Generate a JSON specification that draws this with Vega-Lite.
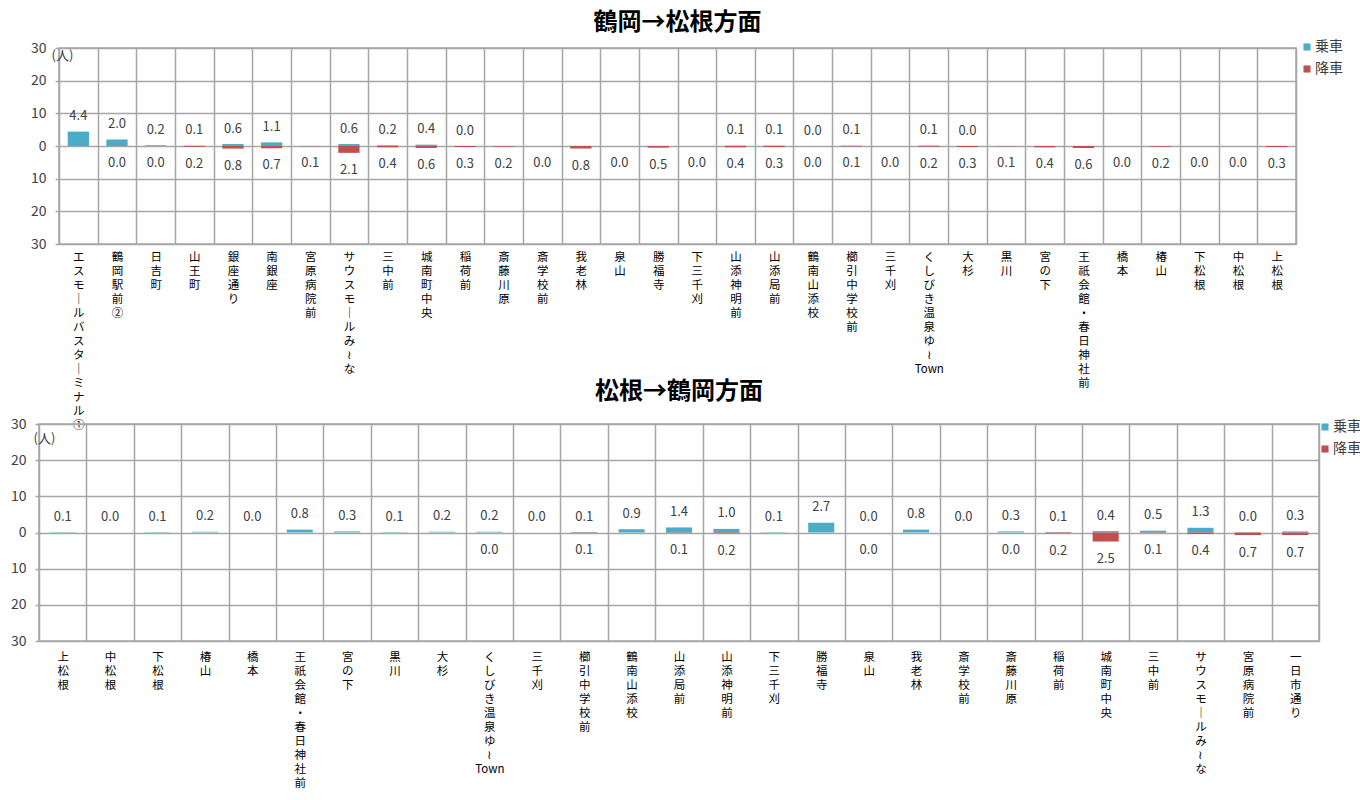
{
  "$schema": "https://vega.github.io/schema/vega-lite/v6.json",
  "background": "white",
  "padding": {"left": 9, "top": 10, "right": 5, "bottom": 5},
  "datasets": {
    "outbound": [
      {"stop": "エスモールバスターミナル①", "type": "乗車", "value": 4.4},
      {"stop": "鶴岡駅前②", "type": "乗車", "value": 2.0},
      {"stop": "鶴岡駅前②", "type": "降車", "value": 0},
      {"stop": "日吉町", "type": "乗車", "value": 0.2},
      {"stop": "日吉町", "type": "降車", "value": 0},
      {"stop": "山王町", "type": "乗車", "value": 0.1},
      {"stop": "山王町", "type": "降車", "value": -0.2},
      {"stop": "銀座通り", "type": "乗車", "value": 0.6},
      {"stop": "銀座通り", "type": "降車", "value": -0.8},
      {"stop": "南銀座", "type": "乗車", "value": 1.1},
      {"stop": "南銀座", "type": "降車", "value": -0.7},
      {"stop": "宮原病院前", "type": "降車", "value": -0.1},
      {"stop": "サウスモールみ～な", "type": "乗車", "value": 0.6},
      {"stop": "サウスモールみ～な", "type": "降車", "value": -2.1},
      {"stop": "三中前", "type": "乗車", "value": 0.2},
      {"stop": "三中前", "type": "降車", "value": -0.4},
      {"stop": "城南町中央", "type": "乗車", "value": 0.4},
      {"stop": "城南町中央", "type": "降車", "value": -0.6},
      {"stop": "稲荷前", "type": "乗車", "value": 0.0},
      {"stop": "稲荷前", "type": "降車", "value": -0.3},
      {"stop": "斎藤川原", "type": "降車", "value": -0.2},
      {"stop": "斎学校前", "type": "降車", "value": 0},
      {"stop": "我老林", "type": "降車", "value": -0.8},
      {"stop": "泉山", "type": "降車", "value": 0},
      {"stop": "勝福寺", "type": "降車", "value": -0.5},
      {"stop": "下三千刈", "type": "降車", "value": 0},
      {"stop": "山添神明前", "type": "乗車", "value": 0.1},
      {"stop": "山添神明前", "type": "降車", "value": -0.4},
      {"stop": "山添局前", "type": "乗車", "value": 0.1},
      {"stop": "山添局前", "type": "降車", "value": -0.3},
      {"stop": "鶴南山添校", "type": "乗車", "value": 0.0},
      {"stop": "鶴南山添校", "type": "降車", "value": 0},
      {"stop": "櫛引中学校前", "type": "乗車", "value": 0.1},
      {"stop": "櫛引中学校前", "type": "降車", "value": -0.1},
      {"stop": "三千刈", "type": "降車", "value": 0},
      {"stop": "くしびき温泉ゆ～Town", "type": "乗車", "value": 0.1},
      {"stop": "くしびき温泉ゆ～Town", "type": "降車", "value": -0.2},
      {"stop": "大杉", "type": "乗車", "value": 0.0},
      {"stop": "大杉", "type": "降車", "value": -0.3},
      {"stop": "黒川", "type": "降車", "value": -0.1},
      {"stop": "宮の下", "type": "降車", "value": -0.4},
      {"stop": "王祇会館・春日神社前", "type": "降車", "value": -0.6},
      {"stop": "橋本", "type": "降車", "value": 0},
      {"stop": "椿山", "type": "降車", "value": -0.2},
      {"stop": "下松根", "type": "降車", "value": 0},
      {"stop": "中松根", "type": "降車", "value": 0},
      {"stop": "上松根", "type": "降車", "value": -0.3}
    ],
    "inbound": [
      {"stop": "上松根", "type": "乗車", "value": 0.1},
      {"stop": "中松根", "type": "乗車", "value": 0.0},
      {"stop": "下松根", "type": "乗車", "value": 0.1},
      {"stop": "椿山", "type": "乗車", "value": 0.2},
      {"stop": "橋本", "type": "乗車", "value": 0.0},
      {"stop": "王祇会館・春日神社前", "type": "乗車", "value": 0.8},
      {"stop": "宮の下", "type": "乗車", "value": 0.3},
      {"stop": "黒川", "type": "乗車", "value": 0.1},
      {"stop": "大杉", "type": "乗車", "value": 0.2},
      {"stop": "くしびき温泉ゆ～Town", "type": "乗車", "value": 0.2},
      {"stop": "くしびき温泉ゆ～Town", "type": "降車", "value": 0},
      {"stop": "三千刈", "type": "乗車", "value": 0.0},
      {"stop": "櫛引中学校前", "type": "乗車", "value": 0.1},
      {"stop": "櫛引中学校前", "type": "降車", "value": -0.1},
      {"stop": "鶴南山添校", "type": "乗車", "value": 0.9},
      {"stop": "山添局前", "type": "乗車", "value": 1.4},
      {"stop": "山添局前", "type": "降車", "value": -0.1},
      {"stop": "山添神明前", "type": "乗車", "value": 1.0},
      {"stop": "山添神明前", "type": "降車", "value": -0.2},
      {"stop": "下三千刈", "type": "乗車", "value": 0.1},
      {"stop": "勝福寺", "type": "乗車", "value": 2.7},
      {"stop": "泉山", "type": "乗車", "value": 0.0},
      {"stop": "泉山", "type": "降車", "value": 0},
      {"stop": "我老林", "type": "乗車", "value": 0.8},
      {"stop": "斎学校前", "type": "乗車", "value": 0.0},
      {"stop": "斎藤川原", "type": "乗車", "value": 0.3},
      {"stop": "斎藤川原", "type": "降車", "value": 0},
      {"stop": "稲荷前", "type": "乗車", "value": 0.1},
      {"stop": "稲荷前", "type": "降車", "value": -0.2},
      {"stop": "城南町中央", "type": "乗車", "value": 0.4},
      {"stop": "城南町中央", "type": "降車", "value": -2.5},
      {"stop": "三中前", "type": "乗車", "value": 0.5},
      {"stop": "三中前", "type": "降車", "value": -0.1},
      {"stop": "サウスモールみ～な", "type": "乗車", "value": 1.3},
      {"stop": "サウスモールみ～な", "type": "降車", "value": -0.4},
      {"stop": "宮原病院前", "type": "乗車", "value": 0.0},
      {"stop": "宮原病院前", "type": "降車", "value": -0.7},
      {"stop": "一日市通り", "type": "乗車", "value": 0.3},
      {"stop": "一日市通り", "type": "降車", "value": -0.7}
    ]
  },
  "bounds": "flush",
  "spacing": 376,
  "resolve": {
    "scale": {"x": "independent", "y": "independent", "color": "independent"},
    "axis": {"x": "independent", "y": "independent"},
    "legend": {"color": "independent"}
  },
  "vconcat": [
    {
      "bounds": "flush",
      "spacing": 0,
      "resolve": {
        "scale": {"x": "independent", "y": "independent", "color": "independent"},
        "axis": {"x": "independent", "y": "independent"},
        "legend": {"color": "independent"}
      },
      "hconcat": [
        {
          "width": 20,
          "height": 196,
          "view": {"stroke": null},
          "data": {"values": [{"a": 1}]},
          "mark": {"type": "point", "opacity": 0},
          "encoding": {}
        },
        {
          "width": 1237,
          "height": 196,
          "title": {"text": "鶴岡→松根方面", "fontSize": 24, "fontWeight": "bold", "font": "Noto Sans CJK JP", "color": "#000000", "offset": 5},
          "data": {"name": "outbound"},
          "encoding": {
            "x": {
              "field": "stop", "type": "nominal", "sort": null,
              "scale": {"paddingInner": 0, "paddingOuter": 0},
              "axis": {
                "title": null, "grid": true, "tickBand": "extent", "ticks": false, "domain": false,
                "gridColor": "#A6A6A6", "gridWidth": 1.5,
                "labelAngle": 0, "labelAlign": "center", "labelBaseline": "top", "labelPadding": 7,
                "labelFontSize": 11.5, "labelLineHeight": 14, "labelColor": "#000000", "labelFont": "Noto Sans CJK JP",
                "labelOverlap": false, "labelLimit": 0,
                "labelExpr": "datum.label == 'くしびき温泉ゆ～Town' ? ['く','し','び','き','温','泉','ゆ','≀','Town'] : split(replace(replace(replace(datum.label,'ー','｜'),'ー','｜'),'～','≀'),'')"
              }
            },
            "y": {
              "field": "value", "type": "quantitative", "stack": null,
              "scale": {"domain": [-30, 30], "nice": false, "zero": false},
              "axis": {
                "title": "(人)", "titleAngle": 0, "titleX": 3, "titleY": 7, "titleAlign": "center", "titleBaseline": "middle",
                "titleFontSize": 13, "titleFontWeight": "normal", "titleColor": "#404040", "titleFont": "Noto Sans CJK JP",
                "values": [-30, -20, -10, 0, 10, 20, 30],
                "labelExpr": "format(abs(datum.value), 'd')",
                "grid": true, "gridColor": "#A6A6A6", "gridWidth": 1.5, "domain": false,
                "ticks": true, "tickSize": 4, "tickColor": "#A6A6A6", "tickWidth": 1.5,
                "labelPadding": 9, "labelFontSize": 14, "labelColor": "#404040", "labelFont": "Noto Sans CJK JP"
              }
            }
          },
          "layer": [
            {
              "mark": {"type": "bar", "width": {"band": 0.55}},
              "encoding": {
                "color": {
                  "field": "type", "type": "nominal",
                  "scale": {"domain": ["乗車", "降車"], "range": ["#4BACC6", "#C0504D"]},
                  "legend": {
                    "title": null, "orient": "none", "legendX": 1241, "legendY": -8,
                    "symbolType": "square", "symbolSize": 50, "symbolStrokeWidth": 0,
                    "labelFontSize": 14, "labelColor": "#404040", "labelFont": "Noto Sans CJK JP",
                    "labelOffset": 1, "rowPadding": 8
                  }
                }
              }
            },
            {
              "transform": [{"filter": "datum.type == '乗車'"}],
              "mark": {"type": "text", "dy": -15.5, "fontSize": 13, "color": "#404040", "font": "Noto Sans CJK JP", "text": {"expr": "format(abs(datum.value), '.1f')"}}
            },
            {
              "transform": [{"filter": "datum.type == '降車'"}],
              "mark": {"type": "text", "dy": 17, "fontSize": 13, "color": "#404040", "font": "Noto Sans CJK JP", "text": {"expr": "format(abs(datum.value), '.1f')"}}
            }
          ]
        }
      ]
    },
    {
      "width": 1280,
      "height": 217,
      "title": {"text": "松根→鶴岡方面", "fontSize": 24, "fontWeight": "bold", "font": "Noto Sans CJK JP", "color": "#000000", "offset": 13},
      "data": {"name": "inbound"},
      "encoding": {
        "x": {
          "field": "stop", "type": "nominal", "sort": null,
          "scale": {"paddingInner": 0, "paddingOuter": 0},
          "axis": {
            "title": null, "grid": true, "tickBand": "extent", "ticks": false, "domain": false,
            "gridColor": "#A6A6A6", "gridWidth": 1.5,
            "labelAngle": 0, "labelAlign": "center", "labelBaseline": "top", "labelPadding": 10,
            "labelFontSize": 11.5, "labelLineHeight": 14, "labelColor": "#000000", "labelFont": "Noto Sans CJK JP",
            "labelOverlap": false, "labelLimit": 0,
            "labelExpr": "datum.label == 'くしびき温泉ゆ～Town' ? ['く','し','び','き','温','泉','ゆ','≀','Town'] : split(replace(replace(replace(datum.label,'ー','｜'),'ー','｜'),'～','≀'),'')"
          }
        },
        "y": {
          "field": "value", "type": "quantitative", "stack": null,
          "scale": {"domain": [-30, 30], "nice": false, "zero": false},
          "axis": {
            "title": "(人)", "titleAngle": 0, "titleX": 5, "titleY": 14, "titleAlign": "center", "titleBaseline": "middle",
            "titleFontSize": 13, "titleFontWeight": "normal", "titleColor": "#404040", "titleFont": "Noto Sans CJK JP",
            "values": [-30, -20, -10, 0, 10, 20, 30],
            "labelExpr": "format(abs(datum.value), 'd')",
            "grid": true, "gridColor": "#A6A6A6", "gridWidth": 1.5, "domain": false,
            "ticks": true, "tickSize": 4, "tickColor": "#A6A6A6", "tickWidth": 1.5,
            "labelPadding": 9, "labelFontSize": 14, "labelColor": "#404040", "labelFont": "Noto Sans CJK JP"
          }
        }
      },
      "layer": [
        {
          "mark": {"type": "bar", "width": {"band": 0.55}},
          "encoding": {
            "color": {
              "field": "type", "type": "nominal",
              "scale": {"domain": ["乗車", "降車"], "range": ["#4BACC6", "#C0504D"]},
              "legend": {
                "title": null, "orient": "none", "legendX": 1279, "legendY": -4,
                "symbolType": "square", "symbolSize": 50, "symbolStrokeWidth": 0,
                "labelFontSize": 14, "labelColor": "#404040", "labelFont": "Noto Sans CJK JP",
                "labelOffset": 1, "rowPadding": 8
              }
            }
          }
        },
        {
          "transform": [{"filter": "datum.type == '乗車'"}],
          "mark": {"type": "text", "dy": -15.5, "fontSize": 13, "color": "#404040", "font": "Noto Sans CJK JP", "text": {"expr": "format(abs(datum.value), '.1f')"}}
        },
        {
          "transform": [{"filter": "datum.type == '降車'"}],
          "mark": {"type": "text", "dy": 17.5, "fontSize": 13, "color": "#404040", "font": "Noto Sans CJK JP", "text": {"expr": "format(abs(datum.value), '.1f')"}}
        }
      ]
    }
  ],
  "config": {
    "font": "Noto Sans CJK JP",
    "view": {"stroke": "#A6A6A6", "strokeWidth": 1.5}
  }
}
